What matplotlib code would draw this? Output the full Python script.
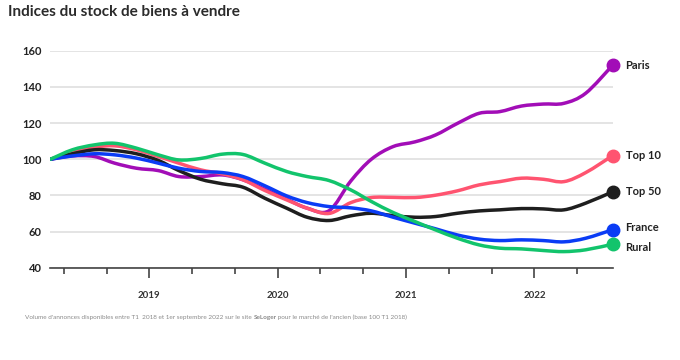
# Indices du stock de biens à vendre
import matplotlib
matplotlib.use("Agg")
import matplotlib.pyplot as plt
from matplotlib.path import Path
from matplotlib.patches import PathPatch
from matplotlib.ticker import FixedLocator

# dates (années décimales), relevées toutes les ~2 mois
dates = [2018.23, 2018.40, 2018.57, 2018.73, 2018.90, 2019.07, 2019.23, 2019.40, 2019.57,
         2019.73, 2019.90, 2020.07, 2020.23, 2020.40, 2020.57, 2020.73, 2020.90, 2021.07,
         2021.23, 2021.40, 2021.57, 2021.73, 2021.90, 2022.07, 2022.23, 2022.40, 2022.61]

paris = [100, 101.8, 101.5, 97.8, 95.0, 93.7, 90.4, 90.4, 91.3, 88.6, 83.4, 77.9, 72.9, 71.5,
         88.0, 100.0, 107.0, 109.6, 113.4, 119.8, 125.4, 126.3, 129.4, 130.5, 130.9, 136.5, 152.0]
top10 = [100, 103.7, 106.6, 107.4, 105.2, 101.5, 97.8, 94.1, 91.9, 88.6, 82.7, 77.5, 72.9, 70.0,
         76.0, 78.8, 78.9, 78.8, 80.1, 82.5, 85.8, 87.6, 89.5, 88.9, 87.6, 92.6, 102.0]
top50 = [100, 103.0, 105.2, 104.8, 103.0, 99.3, 93.7, 88.9, 86.4, 84.5, 78.4, 72.9, 67.9, 66.1,
         68.7, 70.1, 68.8, 67.9, 68.3, 70.1, 71.4, 72.0, 72.7, 72.5, 72.0, 75.7, 82.0]
france = [100, 101.8, 103.0, 102.4, 100.6, 97.8, 95.0, 93.2, 92.6, 90.4, 85.3, 79.7, 76.0, 73.8,
          73.1, 71.4, 67.9, 64.6, 61.5, 58.1, 55.8, 55.0, 55.4, 55.0, 54.3, 56.3, 61.0]
rural = [100, 105.2, 107.9, 108.8, 106.1, 102.4, 99.6, 100.4, 102.8, 102.6, 97.8, 93.2, 90.4, 88.2,
         83.0, 76.6, 70.5, 65.5, 60.9, 56.3, 52.6, 50.8, 50.4, 49.5, 48.9, 49.9, 53.0]

noms = ["Paris", "Top 10", "Top 50", "France", "Rural"]
series = [paris, top10, top50, france, rural]
couleurs = ["#a20db7", "#ff5470", "#1e1e1e", "#0a3cf5", "#12c46c"]
label_y = [152, 102, 82, 62, 51.4]  # position verticale des étiquettes


def courbe_lisse(xs, ys):
    # chemin de Bézier passant par les points (type Catmull-Rom)
    verts = [(xs[0], ys[0])]
    codes = [Path.MOVETO]
    n = len(xs)
    for i in range(n - 1):
        x0, y0 = xs[max(i - 1, 0)], ys[max(i - 1, 0)]
        x1, y1 = xs[i], ys[i]
        x2, y2 = xs[i + 1], ys[i + 1]
        x3, y3 = xs[min(i + 2, n - 1)], ys[min(i + 2, n - 1)]
        verts += [(x1 + (x2 - x0) / 6, y1 + (y2 - y0) / 6),
                  (x2 - (x3 - x1) / 6, y2 - (y3 - y1) / 6),
                  (x2, y2)]
        codes += [Path.CURVE4] * 3
    return Path(verts, codes)


plt.rcParams["font.family"] = ["Lato", "DejaVu Sans"]

fig = plt.figure(figsize=(6.8, 3.6), dpi=100)
ax = fig.add_axes([50 / 680, 1 - 267.7 / 360, (612.7 - 50) / 680, (267.7 - 50.7) / 360])

for nom, s, c, ly in zip(noms, series, couleurs, label_y):
    ax.add_patch(PathPatch(courbe_lisse(dates, s), fill=False, edgecolor=c, linewidth=2.5,
                           capstyle="round", joinstyle="round", zorder=3))
    ax.plot(dates[-1], s[-1], "o", color=c, markersize=9, clip_on=False, zorder=4)
    ax.text(dates[-1] + 0.1, ly, nom, fontsize=8, fontweight="bold", color="#222222",
            va="center", ha="left")

ax.set_xlim(2018.226, 2022.61)
ax.set_ylim(40, 160)

# grille horizontale
ax.yaxis.set_major_locator(FixedLocator([40, 60, 80, 100, 120, 140, 160]))
ax.grid(axis="y", color="#e2e2e2", linewidth=1.3, zorder=0)
ax.set_axisbelow(True)
for sp in ["top", "right", "left"]:
    ax.spines[sp].set_visible(False)
ax.spines["bottom"].set_color("#444444")
ax.spines["bottom"].set_linewidth(1.2)
ax.tick_params(axis="y", length=0, pad=6, labelsize=8, labelcolor="#222222")
for lab in ax.get_yticklabels():
    lab.set_fontweight("bold")

# axe x: années + marques tous les 4 mois
annees = [2019, 2020, 2021, 2022]
mois4 = [2018 + 4 / 12, 2018 + 8 / 12, 2019 + 4 / 12, 2019 + 8 / 12, 2020 + 4 / 12,
         2020 + 8 / 12, 2021 + 4 / 12, 2021 + 8 / 12, 2022 + 4 / 12]
ax.xaxis.set_major_locator(FixedLocator(annees))
ax.xaxis.set_minor_locator(FixedLocator(mois4))
ax.set_xticklabels([str(a) for a in annees], fontsize=7, fontweight="bold", color="#333333")
ax.tick_params(axis="x", which="major", length=7, width=1.2, color="#444444", pad=10)
ax.tick_params(axis="x", which="minor", length=4, width=1.2, color="#444444")

# titre
fig.text(8 / 680, 1 - 12 / 360, "Indices du stock de biens à vendre", fontsize=11,
         fontweight="bold", color="#2b2b2b", va="center", ha="left")

# note de bas de page avec "SeLoger" en gras
parts = [("Volume d'annonces disponibles entre T1  2018 et 1er septembre 2022 sur le site ", "normal"),
         ("SeLoger", "bold"),
         (" pour le marché de l'ancien (base 100 T1 2018)", "normal")]
renderer = fig.canvas.get_renderer()
x0 = 25 / 680
for txt, w in parts:
    t = fig.text(x0, 1 - 317 / 360, txt, fontsize=4.6, fontweight=w, color="#8a8a8a",
                 va="center", ha="left")
    bb = t.get_window_extent(renderer=renderer)
    x0 = bb.x1 / fig.bbox.width

fig.savefig("out.png", dpi=100)
